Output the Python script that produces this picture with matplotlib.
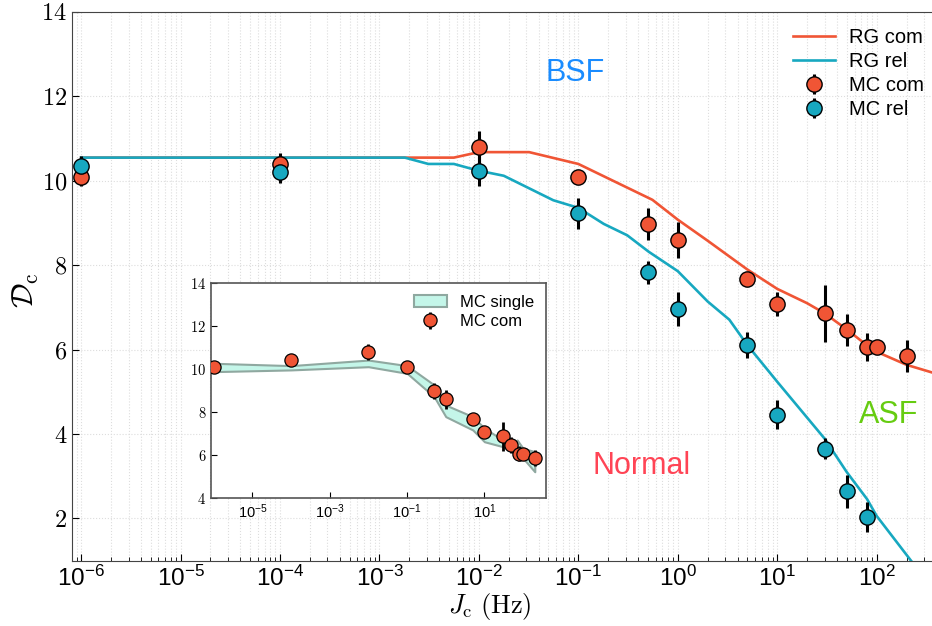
import numpy as np
import matplotlib
matplotlib.use("Agg")
import matplotlib.pyplot as plt
from matplotlib.ticker import FuncFormatter

plt.rcParams['mathtext.fontset'] = 'cm'
plt.rcParams['font.family'] = ['Liberation Sans', 'DejaVu Sans']

# MC points
mc_x = [1e-6, 1e-4, 1e-2, 1e-1, 0.5, 1, 5, 10, 30, 50, 80, 100, 200]
mc_com = [10.08, 10.40, 10.79, 10.08, 8.98, 8.59, 7.67, 7.08, 6.86, 6.47, 6.06, 6.06, 5.86]
mc_com_err = [0.2, 0.27, 0.38, 0.05, 0.38, 0.43, 0.15, 0.28, 0.68, 0.38, 0.34, 0.1, 0.38]

rel_x = [1e-6, 1e-4, 1e-2, 1e-1, 0.5, 1, 5, 10, 30, 50, 80]
mc_rel = [10.34, 10.22, 10.24, 9.23, 7.83, 6.97, 6.11, 4.46, 3.65, 2.64, 2.04]
mc_rel_err = [0.25, 0.28, 0.36, 0.36, 0.28, 0.4, 0.3, 0.35, 0.25, 0.39, 0.35]

# RG curves
rg_com_x = [1e-6, 1.8e-3, 5.6e-3, 1e-2, 3.2e-2, 1e-1, 0.556, 1, 2, 5, 10, 20, 30, 50, 80, 100, 200, 360]
rg_com = [10.55, 10.55, 10.55, 10.68, 10.68, 10.40, 9.55, 9.08, 8.58, 7.90, 7.44, 7.10, 6.86, 6.48, 6.10, 5.95, 5.64, 5.46]

rg_rel_x = [1e-6, 1.8e-3, 3.1e-3, 5.6e-3, 8.3e-3, 1e-2, 1.78e-2, 5.6e-2, 1e-1, 0.18, 0.31, 0.51, 1, 2,
            3.3, 5, 10, 30, 50, 80, 100, 230, 360]
rg_rel = [10.55, 10.55, 10.40, 10.40, 10.29, 10.24, 10.12, 9.54, 9.36, 8.98, 8.71, 8.32, 7.86, 7.14,
          6.71, 6.11, 5.24, 3.89, 3.10, 2.46, 2.06, 0.95, 0.3]

# MC single band (inset)
band_x = [1e-6, 1e-4, 1e-2, 1e-1, 0.5, 1, 5, 10, 30, 50, 70, 100, 200]
band_lo = [9.88, 9.96, 10.11, 9.80, 8.71, 7.78, 7.16, 6.61, 6.38, 6.15, 5.91, 5.84, 5.21]
band_hi = [10.27, 10.16, 10.42, 10.16, 9.26, 8.32, 7.78, 7.24, 6.69, 6.46, 6.69, 6.30, 6.15]

red = '#f05535'
teal = '#17a8c0'

mathfmt = FuncFormatter(lambda v, p: r'$%d$' % v)

fig = plt.figure(figsize=(9.32, 6.26), dpi=100)
ax = fig.add_axes([72/932, 1-560.7/626, 1-72/932, (560.7-12)/626])

ax.plot(rg_com_x, rg_com, color=red, lw=1.9, label='RG com')
ax.plot(rg_rel_x, rg_rel, color=teal, lw=1.9, label='RG rel')
ax.errorbar(mc_x, mc_com, yerr=mc_com_err, fmt='o', ms=11, mfc=red, mec='black', mew=1.0,
            ecolor='black', elinewidth=2.2, capsize=0, label='MC com', zorder=5)
ax.errorbar(rel_x, mc_rel, yerr=mc_rel_err, fmt='o', ms=11, mfc=teal, mec='black', mew=1.0,
            ecolor='black', elinewidth=2.2, capsize=0, label='MC rel', zorder=5)

ax.set_xscale('log')
ax.set_xlim(8.1e-7, 360)
ax.set_ylim(1, 14)
ax.set_yticks([2, 4, 6, 8, 10, 12, 14])
ax.yaxis.set_major_formatter(mathfmt)
ax.set_xticks([1e-6, 1e-5, 1e-4, 1e-3, 1e-2, 1e-1, 1, 10, 100])
ax.tick_params(which='both', direction='in', labelsize=17.5, top=False, right=False)
ax.tick_params(which='major', length=5)
ax.tick_params(which='minor', length=3)
ax.grid(True, which='both', ls=':', color='#dddddd', lw=0.8)
for s in ax.spines.values():
    s.set_color('#444444')
ax.spines['right'].set_visible(False)

ax.set_xlabel(r'$J_{\rm c}\ (\mathrm{Hz})$', fontsize=19)
ax.xaxis.set_label_coords(0.486, -0.055)
ax.set_ylabel(r'$\mathcal{D}_{\rm c}$', fontsize=22)
ax.yaxis.set_label_coords(-0.036, 0.493)

fig.text(575/932, 1-73/626, 'BSF', color='#1a8cff', fontsize=22, ha='center', va='center')
fig.text(642/932, 1-466/626, 'Normal', color='#ff4455', fontsize=22, ha='center', va='center')
fig.text(889/932, 1-415/626, 'ASF', color='#66cc11', fontsize=22, ha='center', va='center')

leg = ax.legend(loc='upper right', frameon=False, fontsize=14.5, handlelength=2.1,
                handletextpad=0.7, labelspacing=0.25, borderaxespad=0.0,
                bbox_to_anchor=(1.0, 0.985))

# inset
axi = fig.add_axes([211/932, 1-497.7/626, (546-211)/932, (497.7-283.3)/626])
axi.fill_between(band_x, band_lo, band_hi, facecolor='#c4f6e9', edgecolor='#8fa8a0', lw=1.5,
                 label='MC single')
axi.errorbar(mc_x, mc_com, yerr=mc_com_err, fmt='o', ms=9.5, mfc=red, mec='black', mew=0.9,
             ecolor='black', elinewidth=2.0, capsize=0, label='MC com', zorder=5)
axi.set_xscale('log')
axi.set_xlim(8.5e-7, 390)
axi.set_ylim(4, 14)
axi.set_yticks([4, 6, 8, 10, 12, 14])
axi.yaxis.set_major_formatter(mathfmt)
axi.minorticks_off()
axi.set_xticks([1e-5, 1e-3, 1e-1, 10])
axi.tick_params(direction='in', labelsize=10.5, length=4, top=False, right=False)
for s in axi.spines.values():
    s.set_color('#555555')
    s.set_linewidth(1.2)
axi.legend(loc='upper right', frameon=False, fontsize=12, handlelength=2.0,
           labelspacing=0.25, borderaxespad=0.3)

fig.savefig('out.png', dpi=100)
